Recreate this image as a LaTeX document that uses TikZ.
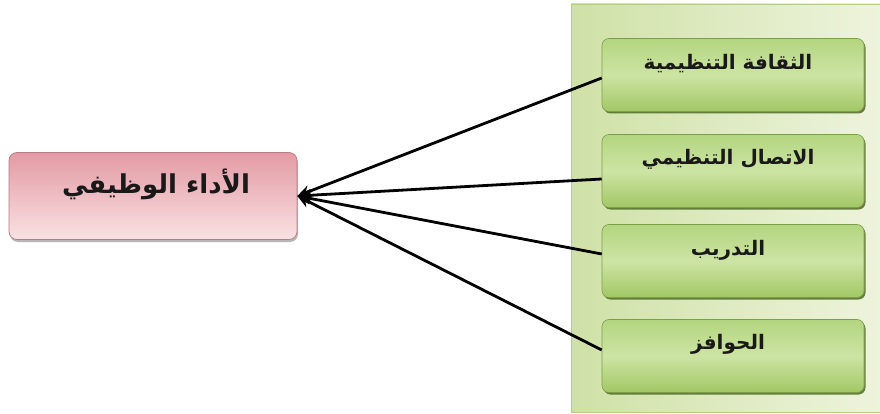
\documentclass[tikz,border=0pt]{standalone}
\usepackage{fontspec}
\usetikzlibrary{arrows.meta,shadows}
\newfontfamily\arabicfont[Script=Arabic]{DejaVu Sans}
\TeXXeTstate=1
\definecolor{panelL}{HTML}{CFE1A6}
\definecolor{panelR}{HTML}{EEF4DD}
\definecolor{panelEdge}{HTML}{B3CD82}
\definecolor{boxTop}{HTML}{B3D57F}
\definecolor{boxMid}{HTML}{CDE4A4}
\definecolor{boxBot}{HTML}{A2C764}
\definecolor{boxEdge}{HTML}{7E9F4A}
\definecolor{boxShade}{HTML}{4F6B24}
\definecolor{pinkA}{HTML}{E39AA3}
\definecolor{pinkB}{HTML}{F9E2E4}
\definecolor{pinkEdge}{HTML}{B57C83}
\tikzset{
  factor/.style={rounded corners=7pt, draw=boxEdge, line width=0.6pt,
    top color=boxTop, bottom color=boxBot, middle color=boxMid,
    minimum width=262pt, minimum height=73pt, inner sep=0pt,
    drop shadow={shadow xshift=1.5pt, shadow yshift=-2pt, fill=boxShade, opacity=0.85}},
  outcome/.style={rounded corners=8pt, draw=pinkEdge, line width=0.7pt,
    top color=pinkA, bottom color=pinkB,
    minimum width=288pt, minimum height=87pt, inner sep=0pt,
    drop shadow={shadow xshift=1pt, shadow yshift=-2.5pt, fill=gray!80, opacity=0.7}},
  factorlabel/.style={font=\arabicfont\bfseries\fontsize{20}{22}\selectfont, text=black!90},
  outcomelabel/.style={font=\arabicfont\bfseries\fontsize{26}{28}\selectfont, text=black!90},
  link/.style={line width=2.8pt, -{Stealth[length=13pt,width=12pt]}, black}
}
\begin{document}
\begin{tikzpicture}[x=1pt,y=-1pt]
  \useasboundingbox (0,0) rectangle (880,414);
  \fill[white] (0,0) rectangle (880,414);

  % green panel holding the factors
  \shade[left color=panelL, right color=panelR] (571,4) rectangle (884,412);
  \draw[panelEdge, line width=0.8pt] (884,4) -- (571,4) -- (571,412) -- (884,412);

  % factor boxes
  \node[factor] (g1) at (733,75) {};
  \node[factor] (g2) at (733,171) {};
  \node[factor] (g3) at (733,261) {};
  \node[factor] (g4) at (733,356) {};

  \node[factorlabel] (t1) at (728,64) {\beginR الثقافة التنظيمية\endR};
  \node[factorlabel] (t2) at (728,159) {\beginR الاتصال التنظيمي\endR};
  \node[factorlabel] (t3) at (728,250) {\beginR التدريب\endR};
  \node[factorlabel] (t4) at (728,344) {\beginR الحوافز\endR};

  % outcome box
  \node[outcome] (p) at (153,196) {};
  \node[outcomelabel] (pt) at (156,184) {\beginR الأداء الوظيفي\endR};

  % connectors from each factor to the outcome
  \coordinate (hub) at (p.east);
  \draw[link] ([yshift=-3pt]g1.west) -- (hub);
  \draw[link] ([yshift=-8pt]g2.west) -- (hub);
  \draw[link] ([yshift=7pt]g3.west) -- (hub);
  \draw[link] ([yshift=6pt]g4.west) -- (hub);
\end{tikzpicture}
\end{document}
